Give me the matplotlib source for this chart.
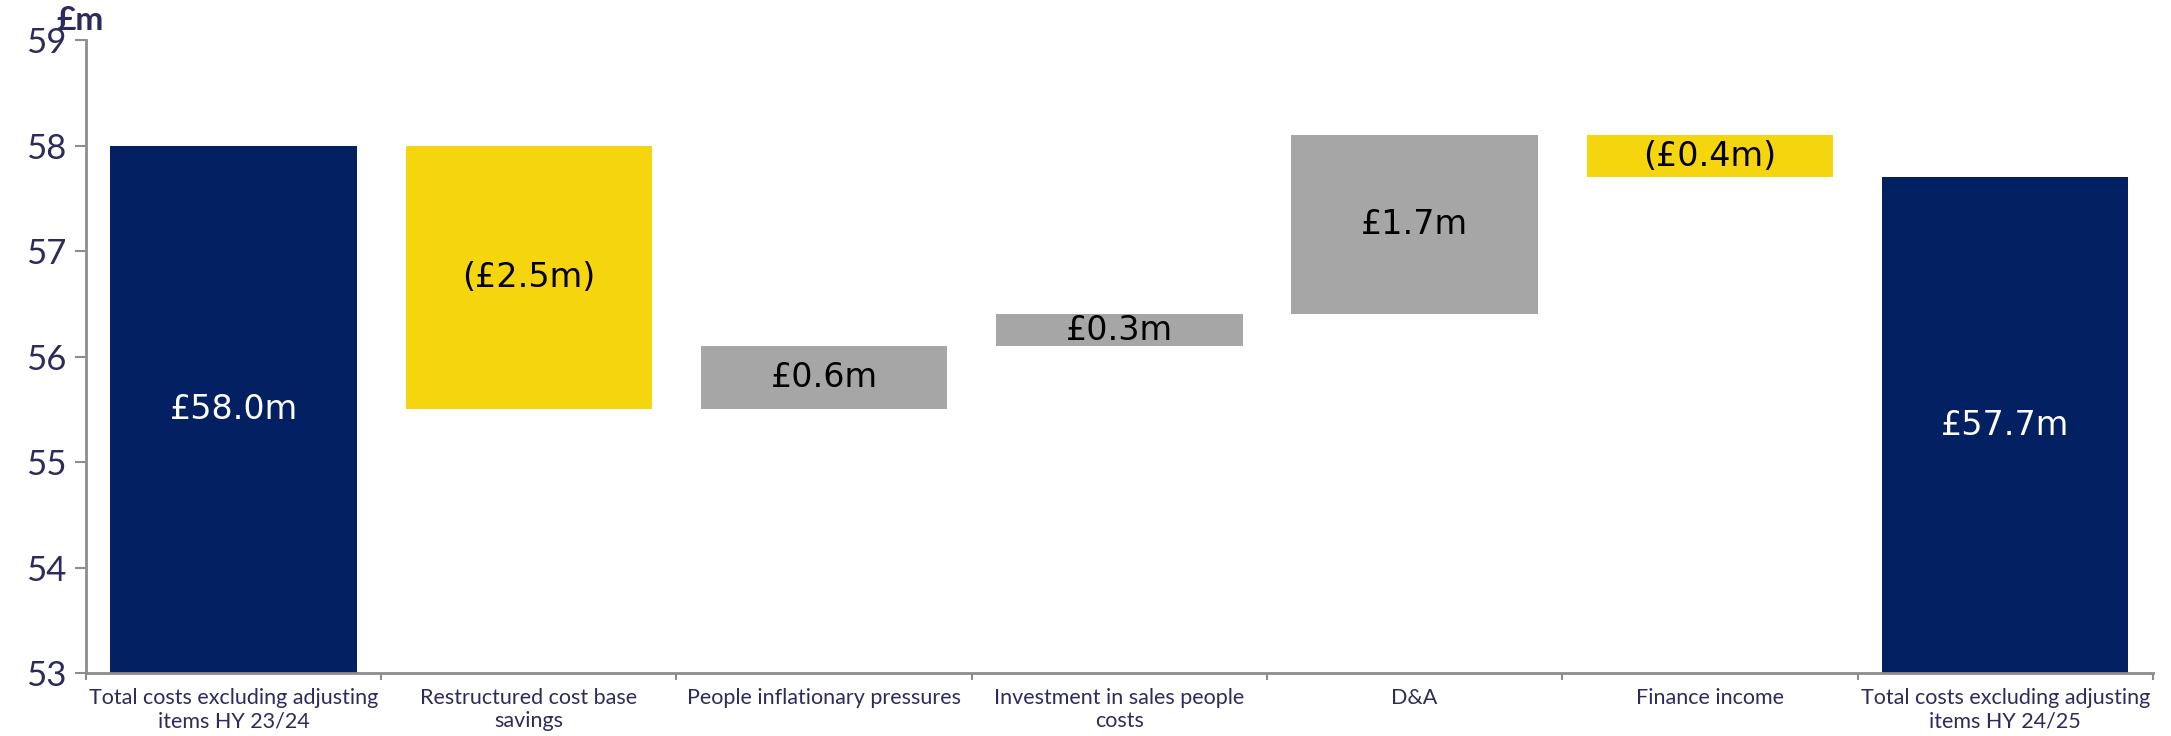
import matplotlib.pyplot as plt
from matplotlib.ticker import FixedLocator

categories = ["Total costs excluding adjusting\nitems HY 23/24", "Restructured cost base\nsavings",
              "People inflationary pressures", "Investment in sales people\ncosts", "D&A",
              "Finance income", "Total costs excluding adjusting\nitems HY 24/25"]
start_total = 58.0
changes = [-2.5, 0.6, 0.3, 1.7, -0.4]
end_total = 57.7
labels = ["£58.0m", "(£2.5m)", "£0.6m", "£0.3m", "£1.7m", "(£0.4m)", "£57.7m"]

navy = "#032162"
yellow = "#F5D50D"
grey = "#A6A6A6"
text_col = "#2E2A5C"

fig = plt.figure(figsize=(21.71, 7.36), dpi=100)
ax = fig.add_axes([0.0396, 0.0856, 0.952, 0.86])
ymin = 53

# waterfall bottoms/heights
bottoms, heights, colors = [], [], []
bottoms.append(ymin); heights.append(start_total - ymin); colors.append(navy)
level = start_total
for c in changes:
    lo = min(level, level + c)
    bottoms.append(lo); heights.append(abs(c))
    colors.append(yellow if c < 0 else grey)
    level += c
bottoms.append(ymin); heights.append(end_total - ymin); colors.append(navy)

x = list(range(len(categories)))
ax.bar(x, heights, bottom=bottoms, width=0.835, color=colors, zorder=2)

for i in x:
    mid = bottoms[i] + heights[i] / 2
    col = "white" if colors[i] == navy else "black"
    ax.text(i, mid, labels[i], ha="center", va="center", fontsize=24, color=col, family="DejaVu Sans")

ax.set_ylim(ymin, 59)
ax.set_xlim(-0.5, len(categories) - 0.5)
ax.set_yticks(range(53, 60))
ax.tick_params(axis="y", labelsize=25, labelcolor=text_col, color="#8C8C8C", length=8, width=1.5, pad=6)
for t in ax.get_yticklabels():
    t.set_family("Lato")
for s in ["top", "right"]:
    ax.spines[s].set_visible(False)
for s in ["left", "bottom"]:
    ax.spines[s].set_color("#8C8C8C")
    ax.spines[s].set_linewidth(2)

ax.xaxis.set_major_locator(FixedLocator([i - 0.5 for i in range(len(categories) + 1)]))
ax.xaxis.set_major_formatter(plt.NullFormatter())
ax.xaxis.set_minor_locator(FixedLocator(x))
ax.set_xticklabels(categories, minor=True)
ax.tick_params(axis="x", which="major", color="#8C8C8C", length=5, width=1.5)
ax.tick_params(axis="x", which="minor", length=0, pad=11, labelsize=15.5, labelcolor=text_col)
for t in ax.get_xticklabels(minor=True):
    t.set_family("Lato")

fig.text(0.026, 0.972, "£m", fontsize=24, color=text_col, fontweight="bold", ha="left", va="center", family="Lato")

fig.savefig("out.png", dpi=100)
